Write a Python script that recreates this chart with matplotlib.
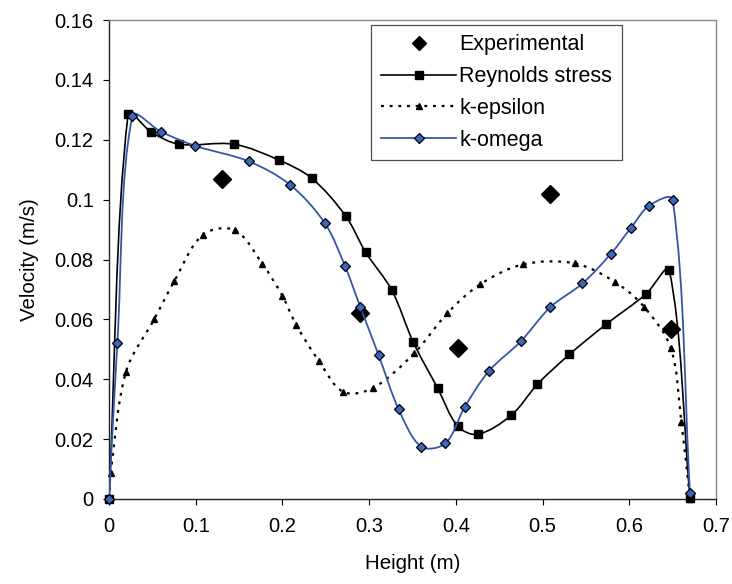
import numpy as np
import matplotlib
matplotlib.use("Agg")
import matplotlib.pyplot as plt
from matplotlib.path import Path
from matplotlib.patches import PathPatch
from matplotlib.lines import Line2D

plt.rcParams['font.family'] = ['Liberation Sans', 'DejaVu Sans']
plt.rcParams['font.size'] = 14.5

# experimental points
exp_x = [0.13, 0.29, 0.403, 0.509, 0.648]
exp_y = [0.1068, 0.062, 0.0505, 0.102, 0.0567]

# Reynolds stress model
rs_x = [0.0, 0.022, 0.049, 0.081, 0.144, 0.196, 0.234, 0.273, 0.296, 0.326, 0.351,
        0.379, 0.402, 0.425, 0.464, 0.494, 0.531, 0.573, 0.619, 0.646, 0.670]
rs_y = [0.0, 0.1285, 0.1225, 0.1185, 0.1185, 0.1132, 0.1071, 0.0945, 0.0824, 0.0698, 0.0523,
        0.037, 0.0244, 0.0216, 0.028, 0.0383, 0.0483, 0.0583, 0.0684, 0.0765, 0.0005]

# k-epsilon model
ke_x = [0.0, 0.002, 0.0196, 0.052, 0.0754, 0.108, 0.145, 0.177, 0.200, 0.216, 0.242,
        0.270, 0.304, 0.352, 0.390, 0.428, 0.478, 0.537, 0.584, 0.617, 0.648, 0.660, 0.670]
ke_y = [0.0, 0.0088, 0.0425, 0.060, 0.0728, 0.0882, 0.0898, 0.0785, 0.0678, 0.0581, 0.0461,
        0.0358, 0.037, 0.0487, 0.062, 0.0717, 0.0784, 0.0787, 0.0724, 0.0642, 0.0503, 0.0258, 0.0]

# k-omega model
ko_x = [0.0, 0.0096, 0.027, 0.060, 0.099, 0.161, 0.209, 0.249, 0.272, 0.290, 0.311,
        0.334, 0.360, 0.388, 0.410, 0.438, 0.475, 0.509, 0.546, 0.579, 0.602, 0.623, 0.650, 0.670]
ko_y = [0.0, 0.052, 0.128, 0.1227, 0.118, 0.1128, 0.1049, 0.0921, 0.0779, 0.064, 0.048,
        0.030, 0.0175, 0.0186, 0.0306, 0.0427, 0.0527, 0.0641, 0.072, 0.082, 0.0906, 0.098, 0.100, 0.002]

x_ticks = [0, 0.1, 0.2, 0.3, 0.4, 0.5, 0.6, 0.7]
y_ticks = [0, 0.02, 0.04, 0.06, 0.08, 0.1, 0.12, 0.14, 0.16]

BLUE = '#3457a8'
MBLUE = '#3d66bd'

# pixels per data unit, used only to weight the smoothing like excel does
SX = 607 / 0.7
SY = 479 / 0.16


def smooth_path(xs, ys):
    # smoothed line through the points (cubic bezier, tangents weighted by segment length)
    pts = np.column_stack([xs, ys])
    scale = np.array([SX, SY])
    n = len(pts)
    verts = [pts[0]]
    codes = [Path.MOVETO]

    def dist(a, b):
        return np.hypot(*((b - a) * scale))

    for i in range(n - 1):
        p0 = pts[max(i - 1, 0)]
        p1 = pts[i]
        p2 = pts[i + 1]
        p3 = pts[min(i + 2, n - 1)]
        d01, d12, d23 = dist(p0, p1), dist(p1, p2), dist(p2, p3)
        c1 = p1 + (p2 - p0) * d12 / (d01 + d12) / 3
        c2 = p2 - (p3 - p1) * d12 / (d12 + d23) / 3
        verts += [c1, c2, p2]
        codes += [Path.CURVE4] * 3
    return Path(verts, codes)


fig = plt.figure(figsize=(7.32, 5.84), dpi=100)
ax = fig.add_axes([109 / 732, 85 / 584, 607 / 732, 479 / 584])

ax.plot(exp_x, exp_y, ls='none', marker='D', ms=9, color='black', zorder=3)

ax.add_patch(PathPatch(smooth_path(rs_x, rs_y), fc='none', ec='black', lw=1.2, zorder=4))
ax.plot(rs_x, rs_y, ls='none', marker='s', ms=5.8, color='black', zorder=5, clip_on=False)

ax.add_patch(PathPatch(smooth_path(ke_x, ke_y), fc='none', ec='black', lw=1.6,
                       linestyle=(0, (1.3, 2.6)), zorder=4))
ax.plot(ke_x, ke_y, ls='none', marker='^', ms=4, color='black', zorder=5, clip_on=False)

ax.add_patch(PathPatch(smooth_path(ko_x, ko_y), fc='none', ec=BLUE, lw=1.3, zorder=6))
ax.plot(ko_x, ko_y, ls='none', marker='D', ms=4.6, mfc=MBLUE, mec='black', mew=0.9,
        zorder=7, clip_on=False)

ax.set_xlim(0, 0.7)
ax.set_ylim(0, 0.16)
ax.set_xticks(x_ticks)
ax.set_yticks(y_ticks)
ax.set_xticklabels(['%g' % v for v in x_ticks])
ax.set_yticklabels(['%g' % v for v in y_ticks])
ax.tick_params(direction='out', length=4, width=0.8, pad=7)
ax.tick_params(axis='x', pad=9)

for s in ['left', 'bottom']:
    ax.spines[s].set_color('#222222')
    ax.spines[s].set_linewidth(1.0)
for s in ['top', 'right']:
    ax.spines[s].set_color('#8a8a8a')
    ax.spines[s].set_linewidth(1.0)

ax.set_xlabel('Height (m)', labelpad=13, fontsize=14.8)
ax.set_ylabel('Velocity (m/s)', labelpad=11, fontsize=14.8)

handles = [
    Line2D([], [], ls='none', marker='D', ms=7, color='black'),
    Line2D([], [], color='black', lw=1.2, marker='s', ms=5.8),
    Line2D([], [], color='black', lw=1.6, ls=(0, (1.3, 2.6)), marker='^', ms=4),
    Line2D([], [], color=BLUE, lw=1.3, marker='D', ms=4.6, mfc=MBLUE, mec='black', mew=0.9),
]
labels = ['Experimental', 'Reynolds stress', 'k-epsilon', 'k-omega']
leg = ax.legend(handles, labels, loc='upper left', bbox_to_anchor=(0.432, 0.99),
                frameon=True, fancybox=False, handlelength=3.5, handletextpad=0.15,
                labelspacing=0.5, borderpad=0.45, borderaxespad=0, fontsize=15.5)
leg.get_frame().set_edgecolor('#222222')
leg.get_frame().set_linewidth(0.9)

fig.savefig('out.png', dpi=100)
